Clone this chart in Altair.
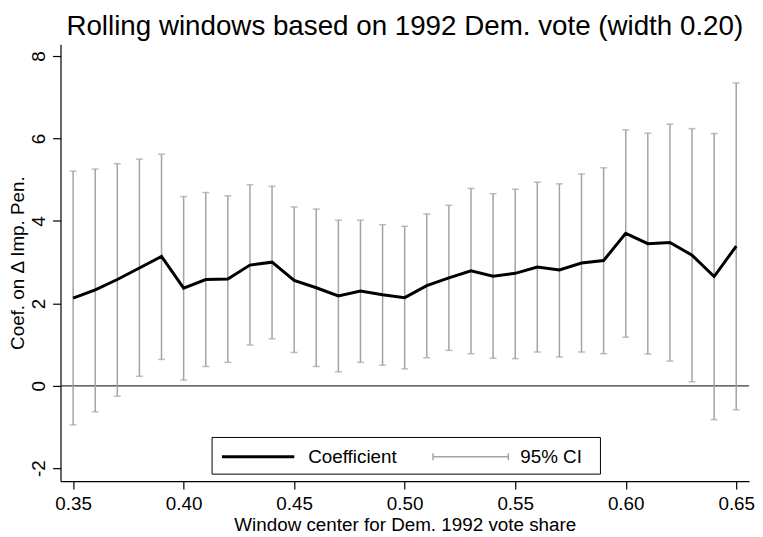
import altair as alt
import pandas as pd

centers = [0.35, 0.36, 0.37, 0.38, 0.39, 0.40, 0.41, 0.42, 0.43, 0.44,
           0.45, 0.46, 0.47, 0.48, 0.49, 0.50, 0.51, 0.52, 0.53, 0.54,
           0.55, 0.56, 0.57, 0.58, 0.59, 0.60, 0.61, 0.62, 0.63, 0.64, 0.65]
coef = [2.13, 2.33, 2.58, 2.86, 3.14, 2.37, 2.58, 2.59, 2.93, 3.00,
        2.56, 2.38, 2.18, 2.30, 2.21, 2.14, 2.43, 2.62, 2.79, 2.66,
        2.73, 2.88, 2.81, 2.98, 3.04, 3.70, 3.45, 3.48, 3.17, 2.65, 3.39]
ci_upper = [5.21, 5.26, 5.39, 5.50, 5.62, 4.59, 4.69, 4.61, 4.88, 4.84,
            4.34, 4.29, 4.02, 4.02, 3.91, 3.87, 4.17, 4.38, 4.79, 4.66,
            4.77, 4.94, 4.90, 5.14, 5.29, 6.21, 6.13, 6.35, 6.24, 6.12, 7.35]
ci_lower = [-0.95, -0.63, -0.25, 0.23, 0.64, 0.14, 0.47, 0.57, 0.99, 1.14,
            0.81, 0.47, 0.34, 0.57, 0.50, 0.41, 0.68, 0.86, 0.78, 0.67,
            0.66, 0.82, 0.70, 0.82, 0.78, 1.18, 0.77, 0.60, 0.10, -0.82, -0.58]
x_ticks = [0.35, 0.40, 0.45, 0.50, 0.55, 0.60, 0.65]
y_ticks = [-2, 0, 2, 4, 6, 8]

df = pd.DataFrame({"x": centers, "coef": coef, "lo": ci_lower, "hi": ci_upper})

FONT = "Liberation Sans"
CI_COLOR = "#a3a3a3"

xscale = alt.Scale(domain=[0.3443, 0.6558], nice=False, zero=False)
yscale = alt.Scale(domain=[-2.31, 8.29], nice=False, zero=False)

xenc = alt.X("x:Q", scale=xscale,
             axis=alt.Axis(values=x_ticks, format=".2f", title="Window center for Dem. 1992 vote share",
                           labelFontSize=19, titleFontSize=19, labelPadding=6, titlePadding=2,
                           tickSize=8, grid=False, labelFlush=False))
yaxis = alt.Axis(values=y_ticks, title="Coef. on \u0394 Imp. Pen.", labelAngle=-90,
                 labelAlign="center", labelBaseline="alphabetic",
                 labelExpr="replace(datum.label, '\u2212', '-')",
                 labelFontSize=19, titleFontSize=19, labelPadding=8, titlePadding=2,
                 tickSize=8, grid=False)

base = alt.Chart(df)

zero_df = pd.DataFrame({"z": [0]})
zero_line = alt.Chart(zero_df).mark_rule(color="#3a3a3a", strokeWidth=1.2).encode(
    y=alt.Y("z:Q", scale=yscale, axis=yaxis)
)

ci_rule = base.mark_rule(color=CI_COLOR, strokeWidth=1.5).encode(
    x=xenc,
    y=alt.Y("lo:Q", scale=yscale, axis=yaxis),
    y2="hi:Q",
)
cap_lo = base.mark_tick(color=CI_COLOR, orient="horizontal", size=7, thickness=1.5).encode(
    x=alt.X("x:Q", scale=xscale), y=alt.Y("lo:Q", scale=yscale)
)
cap_hi = base.mark_tick(color=CI_COLOR, orient="horizontal", size=7, thickness=1.5).encode(
    x=alt.X("x:Q", scale=xscale), y=alt.Y("hi:Q", scale=yscale)
)
line = base.mark_line(color="black", strokeWidth=3).encode(
    x=alt.X("x:Q", scale=xscale), y=alt.Y("coef:Q", scale=yscale)
)

# legend (drawn inside the plot area)
leg_box = alt.Chart(zero_df).mark_rect(fill="white", stroke="black", strokeWidth=1).encode(
    x=alt.value(153), x2=alt.value(545), y=alt.value(397), y2=alt.value(434)
)
leg_line = alt.Chart(zero_df).mark_rule(color="black", strokeWidth=3).encode(
    x=alt.value(163), x2=alt.value(236), y=alt.value(416.5)
)
leg_text1 = alt.Chart(zero_df).mark_text(align="left", baseline="middle", fontSize=19, font=FONT,
                                         color="black").encode(
    x=alt.value(250), y=alt.value(417), text=alt.value("Coefficient")
)
leg_ci = alt.Chart(zero_df).mark_rule(color=CI_COLOR, strokeWidth=1.5).encode(
    x=alt.value(376), x2=alt.value(452), y=alt.value(416.5)
)
leg_cap1 = alt.Chart(zero_df).mark_rule(color=CI_COLOR, strokeWidth=1.5).encode(
    x=alt.value(376), y=alt.value(413), y2=alt.value(420)
)
leg_cap2 = alt.Chart(zero_df).mark_rule(color=CI_COLOR, strokeWidth=1.5).encode(
    x=alt.value(452), y=alt.value(413), y2=alt.value(420)
)
leg_text2 = alt.Chart(zero_df).mark_text(align="left", baseline="middle", fontSize=19, font=FONT,
                                         color="black").encode(
    x=alt.value(464), y=alt.value(417), text=alt.value("95% CI")
)

chart = alt.layer(
    zero_line, ci_rule, cap_lo, cap_hi, line,
    leg_box, leg_line, leg_text1, leg_ci, leg_cap1, leg_cap2, leg_text2
).properties(
    width=695, height=441,
    title=alt.TitleParams("Rolling windows based on 1992 Dem. vote (width 0.20)",
                          fontSize=28, font=FONT, fontWeight="normal", color="black",
                          anchor="middle", frame="group", offset=3),
    autosize=alt.AutoSizeParams(type="none"),
    padding={"left": 53, "top": 34, "right": 6, "bottom": 54},
).configure_view(stroke=None).configure_axis(
    labelFont=FONT, titleFont=FONT, labelColor="black", titleColor="black",
    domainColor="black", tickColor="black", domainWidth=1.2, tickWidth=1.2,
    titleFontWeight="normal"
)

chart.save("out.html", embed_options={"renderer": "svg", "actions": False})
